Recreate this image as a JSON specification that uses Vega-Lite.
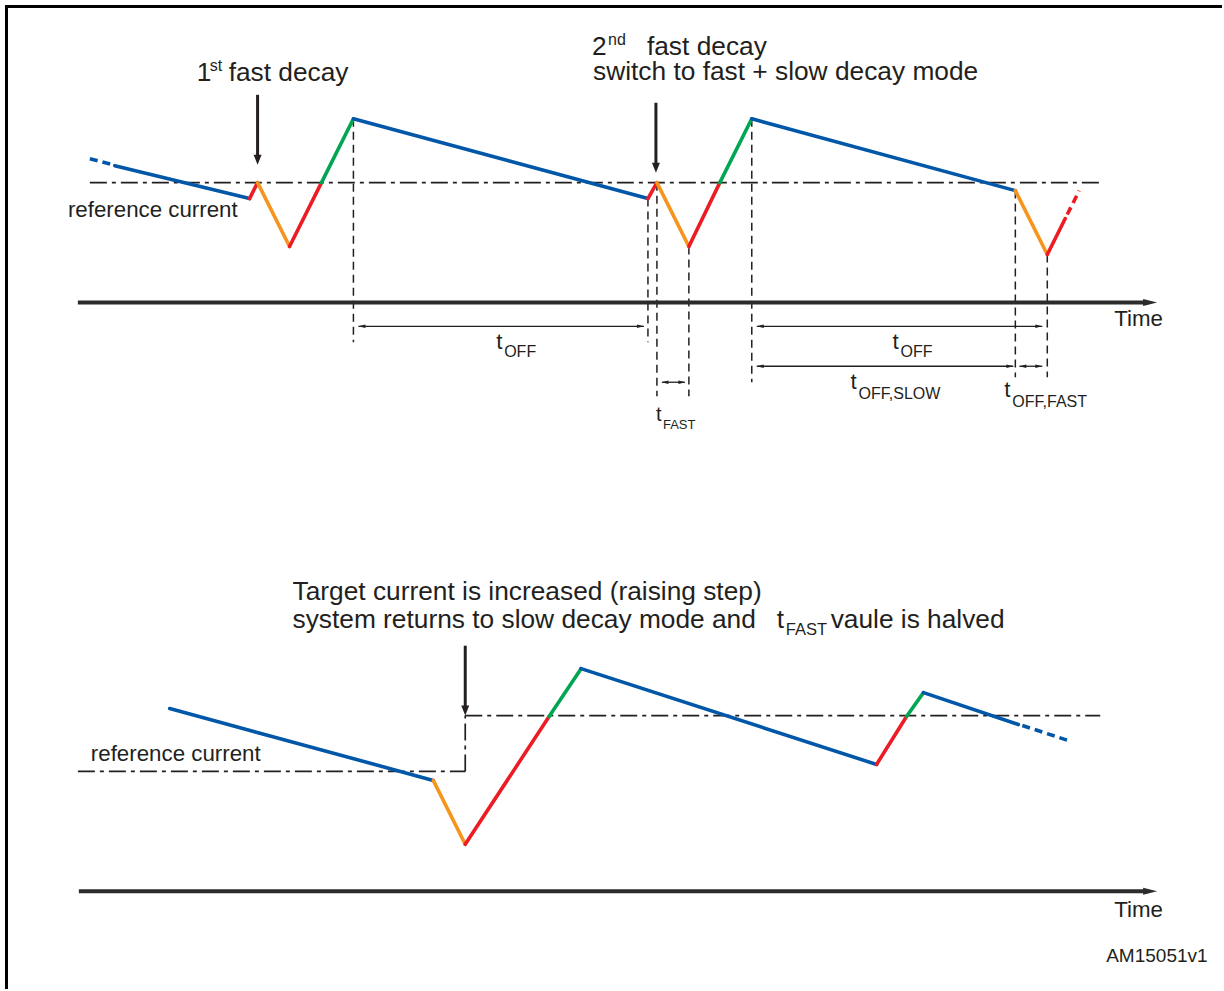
{
  "$schema": "https://vega.github.io/schema/vega-lite/v6.json",
  "width": 1224,
  "height": 991,
  "autosize": {"type": "fit", "contains": "padding"},
  "padding": 0,
  "background": "white",
  "config": {"view": {"stroke": null}, "font": "Liberation Sans"},
  "datasets": {
    "frame": [
      {"x": 6.5, "y": 5, "x2": 6.5, "y2": 991},
      {"x": 5, "y": 6.5, "x2": 1224, "y2": 6.5}
    ],
    "ref": [
      {"x": 90, "y": 183, "x2": 1105, "y2": 183},
      {"x": 78, "y": 773, "x2": 466, "y2": 773},
      {"x": 466, "y": 773, "x2": 466, "y2": 717},
      {"x": 466, "y": 717, "x2": 1102, "y2": 717}
    ],
    "vdash": [
      {"x": 354, "y": 119, "x2": 354, "y2": 343},
      {"x": 649, "y": 199, "x2": 649, "y2": 343},
      {"x": 658, "y": 183, "x2": 658, "y2": 397},
      {"x": 690, "y": 247, "x2": 690, "y2": 397},
      {"x": 753, "y": 119, "x2": 753, "y2": 383},
      {"x": 1017, "y": 191, "x2": 1017, "y2": 378},
      {"x": 1049, "y": 255, "x2": 1049, "y2": 378}
    ],
    "timeAxis": [
      {"x": 78, "y": 303, "x2": 1150, "y2": 303},
      {"x": 79, "y": 893, "x2": 1150, "y2": 893}
    ],
    "timeHead": [
      {"x": 1152, "y": 303},
      {"x": 1152, "y": 893}
    ],
    "dim": [
      {"x": 359, "y": 327, "x2": 645, "y2": 327},
      {"x": 663, "y": 383, "x2": 686, "y2": 383},
      {"x": 758, "y": 327, "x2": 1044, "y2": 327},
      {"x": 758, "y": 367, "x2": 1015, "y2": 367},
      {"x": 1021, "y": 367, "x2": 1044, "y2": 367}
    ],
    "dimHeadL": [
      {"x": 362.5, "y": 327},
      {"x": 666, "y": 383},
      {"x": 761.5, "y": 327},
      {"x": 761.5, "y": 367},
      {"x": 1024.5, "y": 367}
    ],
    "dimHeadR": [
      {"x": 641.5, "y": 327},
      {"x": 683, "y": 383},
      {"x": 1040.5, "y": 327},
      {"x": 1011.5, "y": 367},
      {"x": 1040.5, "y": 367}
    ],
    "bigArrow": [
      {"x": 258, "y": 95, "x2": 258, "y2": 160},
      {"x": 657, "y": 103, "x2": 657, "y2": 168},
      {"x": 466, "y": 647, "x2": 466, "y2": 712}
    ],
    "bigHead": [
      {"x": 258, "y": 160},
      {"x": 657, "y": 168},
      {"x": 466, "y": 712}
    ],
    "wave": [
      {"x": 115, "y": 166, "x2": 250, "y2": 199, "phase": "slow decay"},
      {"x": 250, "y": 199, "x2": 258, "y2": 183, "phase": "on below"},
      {"x": 258, "y": 183, "x2": 290, "y2": 247, "phase": "fast decay"},
      {"x": 290, "y": 247, "x2": 322, "y2": 183, "phase": "on below"},
      {"x": 322, "y": 183, "x2": 354, "y2": 119, "phase": "on above"},
      {"x": 354, "y": 119, "x2": 649, "y2": 199, "phase": "slow decay"},
      {"x": 649, "y": 199, "x2": 658, "y2": 183, "phase": "on below"},
      {"x": 658, "y": 183, "x2": 690, "y2": 247, "phase": "fast decay"},
      {"x": 690, "y": 247, "x2": 721, "y2": 183, "phase": "on below"},
      {"x": 721, "y": 183, "x2": 753, "y2": 119, "phase": "on above"},
      {"x": 753, "y": 119, "x2": 1017, "y2": 191, "phase": "slow decay"},
      {"x": 1017, "y": 191, "x2": 1049, "y2": 255, "phase": "fast decay"},
      {"x": 1049, "y": 255, "x2": 1067, "y2": 219, "phase": "on below"},
      {"x": 170, "y": 710, "x2": 434, "y2": 782, "phase": "slow decay"},
      {"x": 434, "y": 782, "x2": 466, "y2": 846, "phase": "fast decay"},
      {"x": 466, "y": 846, "x2": 550, "y2": 718, "phase": "on below"},
      {"x": 550, "y": 718, "x2": 582, "y2": 670, "phase": "on above"},
      {"x": 582, "y": 670, "x2": 878, "y2": 766, "phase": "slow decay"},
      {"x": 878, "y": 766, "x2": 908, "y2": 718, "phase": "on below"},
      {"x": 908, "y": 718, "x2": 925, "y2": 694, "phase": "on above"},
      {"x": 925, "y": 694, "x2": 1020, "y2": 726, "phase": "slow decay"}
    ],
    "waveDash": [
      {"x": 90, "y": 159, "x2": 113, "y2": 165, "phase": "slow decay"},
      {"x": 1069, "y": 215, "x2": 1081, "y2": 191, "phase": "on below"},
      {"x": 1024, "y": 727, "x2": 1070, "y2": 742, "phase": "slow decay"}
    ],
    "headText": [
      {"x": 197, "y": 81, "t": "1"},
      {"x": 229, "y": 81, "t": "fast decay"},
      {"x": 593, "y": 55, "t": "2"},
      {"x": 648, "y": 55, "t": "fast decay"},
      {"x": 594, "y": 80, "t": "switch to fast + slow decay mode"},
      {"x": 293, "y": 601, "t": "Target current is increased (raising step)"},
      {"x": 293, "y": 629, "t": "system returns to slow decay mode and"},
      {"x": 778, "y": 629, "t": "t"},
      {"x": 832, "y": 629, "t": "vaule is halved"}
    ],
    "supText": [
      {"x": 210, "y": 71, "t": "st"},
      {"x": 609, "y": 45, "t": "nd"}
    ],
    "fastSub": [
      {"x": 787, "y": 636, "t": "FAST"}
    ],
    "labelText": [
      {"x": 68, "y": 217, "t": "reference current"},
      {"x": 91, "y": 763, "t": "reference current"},
      {"x": 1116, "y": 327, "t": "Time"},
      {"x": 1116, "y": 919, "t": "Time"},
      {"x": 497, "y": 350, "t": "t"},
      {"x": 894, "y": 350, "t": "t"},
      {"x": 852, "y": 390, "t": "t"},
      {"x": 1006, "y": 398, "t": "t"}
    ],
    "subText": [
      {"x": 505, "y": 358, "t": "OFF"},
      {"x": 902, "y": 358, "t": "OFF"},
      {"x": 860, "y": 400, "t": "OFF,SLOW"},
      {"x": 1014, "y": 408, "t": "OFF,FAST"}
    ],
    "smallT": [
      {"x": 657, "y": 422, "t": "t"}
    ],
    "smallSub": [
      {"x": 664, "y": 430, "t": "FAST"}
    ],
    "code": [
      {"x": 1108, "y": 964, "t": "AM15051v1"}
    ]
  },
  "encoding": {
    "x": {"field": "x", "type": "quantitative", "scale": {"domain": [0, 1224], "nice": false, "zero": false}, "axis": null},
    "y": {"field": "y", "type": "quantitative", "scale": {"domain": [0, 991], "reverse": true, "nice": false, "zero": false}, "axis": null}
  },
  "layer": [
    {
      "data": {"name": "frame"},
      "mark": {"type": "rule", "color": "#000000", "strokeWidth": 3},
      "encoding": {"x2": {"field": "x2"}, "y2": {"field": "y2"}}
    },
    {
      "data": {"name": "ref"},
      "mark": {"type": "rule", "color": "#231f20", "strokeWidth": 1.7, "strokeDash": [17, 5, 4, 5]},
      "encoding": {"x2": {"field": "x2"}, "y2": {"field": "y2"}}
    },
    {
      "data": {"name": "vdash"},
      "mark": {"type": "rule", "color": "#231f20", "strokeWidth": 1.5, "strokeDash": [8, 5]},
      "encoding": {"x2": {"field": "x2"}, "y2": {"field": "y2"}}
    },
    {
      "data": {"name": "timeAxis"},
      "mark": {"type": "rule", "color": "#2b2b2b", "strokeWidth": 4},
      "encoding": {"x2": {"field": "x2"}, "y2": {"field": "y2"}}
    },
    {
      "data": {"name": "timeHead"},
      "mark": {"type": "point", "shape": "M1,0L-1,-0.5L-1,0.5Z", "size": 196, "filled": true, "color": "#2b2b2b", "opacity": 1, "strokeWidth": 0}
    },
    {
      "data": {"name": "dim"},
      "mark": {"type": "rule", "color": "#231f20", "strokeWidth": 1.3},
      "encoding": {"x2": {"field": "x2"}, "y2": {"field": "y2"}}
    },
    {
      "data": {"name": "dimHeadL"},
      "mark": {"type": "point", "shape": "M-1,0L1,-0.5L1,0.5Z", "size": 49, "filled": true, "color": "#231f20", "opacity": 1, "strokeWidth": 0}
    },
    {
      "data": {"name": "dimHeadR"},
      "mark": {"type": "point", "shape": "M1,0L-1,-0.5L-1,0.5Z", "size": 49, "filled": true, "color": "#231f20", "opacity": 1, "strokeWidth": 0}
    },
    {
      "data": {"name": "bigArrow"},
      "mark": {"type": "rule", "color": "#231f20", "strokeWidth": 3},
      "encoding": {"x2": {"field": "x2"}, "y2": {"field": "y2"}}
    },
    {
      "data": {"name": "bigHead"},
      "mark": {"type": "point", "shape": "M0,1L-0.8,-1L0.8,-1Z", "size": 100, "filled": true, "color": "#231f20", "opacity": 1, "strokeWidth": 0}
    },
    {
      "data": {"name": "wave"},
      "mark": {"type": "rule", "strokeWidth": 3.6, "strokeCap": "round"},
      "encoding": {
        "x2": {"field": "x2"},
        "y2": {"field": "y2"},
        "color": {"field": "phase", "type": "nominal", "legend": null,
          "scale": {"domain": ["slow decay", "on below", "fast decay", "on above"], "range": ["#0057a8", "#ed1c24", "#f7941d", "#00a651"]}}
      }
    },
    {
      "data": {"name": "waveDash"},
      "mark": {"type": "rule", "strokeWidth": 3.6, "strokeDash": [8, 5]},
      "encoding": {
        "x2": {"field": "x2"},
        "y2": {"field": "y2"},
        "color": {"field": "phase", "type": "nominal", "legend": null,
          "scale": {"domain": ["slow decay", "on below", "fast decay", "on above"], "range": ["#0057a8", "#ed1c24", "#f7941d", "#00a651"]}}
      }
    },
    {
      "data": {"name": "headText"},
      "mark": {"type": "text", "align": "left", "baseline": "alphabetic", "fontSize": 26.3, "color": "#231f20"},
      "encoding": {"text": {"field": "t"}}
    },
    {
      "data": {"name": "supText"},
      "mark": {"type": "text", "align": "left", "baseline": "alphabetic", "fontSize": 16, "color": "#231f20"},
      "encoding": {"text": {"field": "t"}}
    },
    {
      "data": {"name": "fastSub"},
      "mark": {"type": "text", "align": "left", "baseline": "alphabetic", "fontSize": 16.5, "color": "#231f20"},
      "encoding": {"text": {"field": "t"}}
    },
    {
      "data": {"name": "labelText"},
      "mark": {"type": "text", "align": "left", "baseline": "alphabetic", "fontSize": 22.3, "color": "#231f20"},
      "encoding": {"text": {"field": "t"}}
    },
    {
      "data": {"name": "subText"},
      "mark": {"type": "text", "align": "left", "baseline": "alphabetic", "fontSize": 16, "color": "#231f20"},
      "encoding": {"text": {"field": "t"}}
    },
    {
      "data": {"name": "smallT"},
      "mark": {"type": "text", "align": "left", "baseline": "alphabetic", "fontSize": 20, "color": "#231f20"},
      "encoding": {"text": {"field": "t"}}
    },
    {
      "data": {"name": "smallSub"},
      "mark": {"type": "text", "align": "left", "baseline": "alphabetic", "fontSize": 13, "color": "#231f20"},
      "encoding": {"text": {"field": "t"}}
    },
    {
      "data": {"name": "code"},
      "mark": {"type": "text", "align": "left", "baseline": "alphabetic", "fontSize": 19, "color": "#231f20"},
      "encoding": {"text": {"field": "t"}}
    }
  ]
}
